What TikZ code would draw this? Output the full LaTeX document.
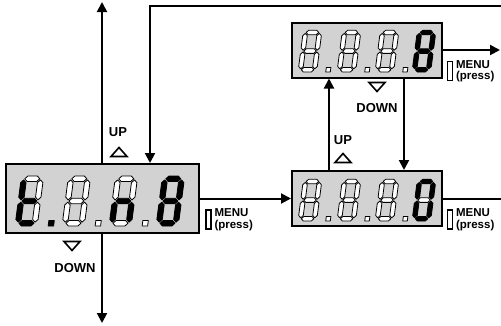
\documentclass[tikz,border=0pt]{standalone}
\usepackage{fontspec}
\setmainfont{Liberation Sans}
\usetikzlibrary{arrows.meta,positioning}

% seven segment digit: #1 bottom left, #2 size, #3 flags a..g, #4 dot (1 on, 0 off, -1 none)
\newcommand{\segdigit}[4]{%
  \begin{scope}[shift={#1}, x=#2pt, y=#2pt, xslant=0.13]
    \foreach \cx/\cy/\r/\len [count=\i] in {0.49/2.08/0/0.33, 0.86/1.59/90/0.44,
        0.86/0.61/90/0.44, 0.49/0.12/0/0.33, 0.12/0.61/90/0.44,
        0.12/1.59/90/0.44, 0.49/1.1/0/0.33}{
      \pgfmathtruncatemacro\lit{{#3}[\i-1]}
      \ifnum\lit=1 \def\segfill{black}\else\def\segfill{white}\fi
      \filldraw[seg, fill=\segfill, shift={(\cx,\cy)}, rotate=\r]
        (-\len,0) -- (-\len+0.12,0.12) -- (\len-0.12,0.12) -- (\len,0)
        -- (\len-0.12,-0.12) -- (-\len+0.12,-0.12) -- cycle;
    }
    \ifnum#4<0 \else
      \ifnum#4=1 \def\segfill{black}\else\def\segfill{white}\fi
      \filldraw[seg, fill=\segfill] (1.46,0) rectangle (1.7,0.24);
    \fi
  \end{scope}}

\begin{document}
\begin{tikzpicture}[x=1pt, y=-1pt, >={Triangle[length=10pt,width=10pt]},
    flow/.style={->, line width=2pt},
    link/.style={line width=2pt},
    display/.style={draw, line width=2pt, fill=gray!35, minimum width=150pt,
      minimum height=55pt, inner sep=0pt},
    button/.style={draw, line width=1.6pt, fill=white, minimum width=5pt,
      minimum height=19pt, inner sep=0pt},
    menutext/.style={font=\bfseries\fontsize{11.5}{11.5}\selectfont, align=left, inner sep=0pt},
    key/.style={font=\bfseries\fontsize{13}{13}\selectfont, inner sep=0pt},
    seg/.style={draw=black, line width=0.8pt, line join=round},
    uptri/.pic={\draw[line width=1.6pt, line join=miter] (-8,4.5) -- (8,4.5) -- (0,-4.5) -- cycle;},
    downtri/.pic={\draw[line width=1.6pt, line join=miter] (-8,-4.5) -- (8,-4.5) -- (0,4.5) -- cycle;}]
  \useasboundingbox (0,0) rectangle (501,325);

  % displays
  \node[display, minimum width=193pt, minimum height=69pt] (main) at (102,198.5) {};
  \node[display] (upper) at (367,50) {};
  \node[display] (lower) at (367,198.5) {};

  % connectors
  \coordinate (upend) at (102,2);
  \coordinate (downend) at (102,323);
  \coordinate (loopin) at (503,6);
  \coordinate (upperout) at (500,50);
  \coordinate (lowerout) at (503,198.5);
  \draw[flow] (main.north) -- (upend);
  \draw[flow] (main.south) -- (downend);
  \draw[flow] (loopin) -| ([xshift=48pt]main.north);
  \draw[flow] (main.east) -- (lower.west);
  \draw[flow] (upper.east) -- (upperout);
  \draw[link] (lower.east) -- (lowerout);
  \draw[flow] ([xshift=-38pt]lower.north) -- ([xshift=-38pt]upper.south);
  \draw[flow] ([xshift=37pt]upper.south) -- ([xshift=37pt]lower.north);

  % MENU keys
  \node[button] (btnmain) at ([xshift=9pt,yshift=-21pt]main.east) {};
  \node[menutext, right=2.5pt of btnmain] (txtmain) {MENU\\(press)};
  \node[button] (btnupper) at ([xshift=7pt,yshift=-21pt]upper.east) {};
  \node[menutext, right=2.5pt of btnupper] (txtupper) {MENU\\(press)};
  \node[button] (btnlower) at ([xshift=7pt,yshift=-21pt]lower.east) {};
  \node[menutext, right=2.5pt of btnlower] (txtlower) {MENU\\(press)};

  % UP / DOWN keys
  \node[key] (upmain) at (118,132) {UP};
  \pic at (119,152) {uptri};
  \node[key] (downmain) at (75,268) {DOWN};
  \pic at (72,246) {downtri};
  \node[key] (uplower) at (343,140) {UP};
  \pic at (343,158) {uptri};
  \node[key] (downupper) at (377,108) {DOWN};
  \pic at (377,87) {downtri};

  % digits
  \segdigit{(15,226)}{22.7}{0,0,0,1,1,1,1}{1}
  \segdigit{(62,226)}{22.7}{0,0,0,0,0,0,0}{0}
  \segdigit{(109,226)}{22.7}{0,0,1,0,1,0,1}{0}
  \segdigit{(156,226)}{22.7}{1,1,1,1,1,1,1}{-1}
  \segdigit{(298,72)}{19}{0,0,0,0,0,0,0}{0}
  \segdigit{(337,72)}{19}{0,0,0,0,0,0,0}{0}
  \segdigit{(375,72)}{19}{0,0,0,0,0,0,0}{0}
  \segdigit{(412,72)}{19}{1,1,1,1,1,1,1}{-1}
  \segdigit{(298,221)}{19}{0,0,0,0,0,0,0}{0}
  \segdigit{(337,221)}{19}{0,0,0,0,0,0,0}{0}
  \segdigit{(375,221)}{19}{0,0,0,0,0,0,0}{0}
  \segdigit{(412,221)}{19}{1,1,1,1,1,1,0}{-1}
\end{tikzpicture}
\end{document}
